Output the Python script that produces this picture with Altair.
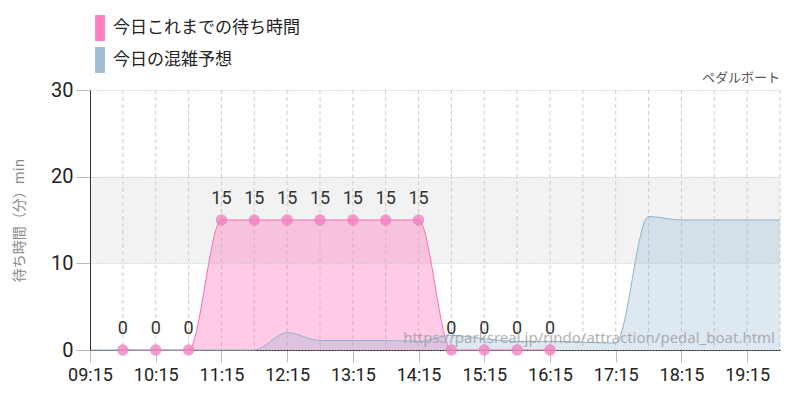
import altair as alt
import pandas as pd

# ---- data ----
actual_times = ["09:45", "10:15", "10:45", "11:15", "11:45", "12:15", "12:45",
                "13:15", "13:45", "14:15", "14:45", "15:15", "15:45", "16:15"]
actual_values = [0, 0, 0, 15, 15, 15, 15, 15, 15, 15, 0, 0, 0, 0]

forecast_times = ["09:15", "09:45", "10:15", "10:45", "11:15", "11:45", "12:15",
                  "12:45", "13:15", "13:45", "14:15", "14:45", "15:15", "15:45",
                  "16:15", "16:45", "17:15", "17:45", "18:15", "18:45", "19:15", "19:45"]
forecast_values = [0, 0, 0, 0, 0, 0, 2.0, 1.1, 1.1, 1.1, 1.0, 1.7, 1.3, 1.0,
                   1.0, 0.9, 0.8, 15.4, 15.0, 15.0, 15.0, 15.0]

hour_ticks = ["09:15", "10:15", "11:15", "12:15", "13:15", "14:15",
              "15:15", "16:15", "17:15", "18:15", "19:15"]
grid_times = ["09:45", "10:15", "10:45", "11:15", "11:45", "12:15", "12:45",
              "13:15", "13:45", "14:15", "14:45", "15:15", "15:45", "16:15",
              "16:45", "17:15", "17:45", "18:15", "18:45", "19:15", "19:45"]
x_domain = ["09:15", "19:45"]
y_domain = [0, 30]
y_ticks = [0, 10, 20, 30]
band_low = [10]
band_high = [20]

series_names = ["今日これまでの待ち時間", "今日の混雑予想"]
series_colors = ["#ff69b4", "#8fb3d0"]
title_text = "ペダルボート"
y_title = "待ち時間（分）min"
watermark = "https://parksreal.jp/rindo/attraction/pedal_boat.html"


def to_min(s):
    h, m = s.split(":")
    return int(h) * 60 + int(m)


COND = "Roboto, sans-serif"
JP = "'Noto Sans CJK JP', 'Noto Sans', sans-serif"

actual_df = pd.DataFrame({
    "t": [to_min(t) for t in actual_times],
    "v": actual_values,
    "series": series_names[0],
})
forecast_df = pd.DataFrame({
    "t": [to_min(t) for t in forecast_times],
    "v": forecast_values,
    "series": series_names[1],
})
grid_df = pd.DataFrame({"t": [to_min(t) for t in grid_times]})
band_df = pd.DataFrame({"lo": band_low, "hi": band_high})
wm_df = pd.DataFrame({"t": [to_min(x_domain[1])], "v": [0], "text": [watermark]})
title_df = pd.DataFrame({"t": [to_min(x_domain[1])], "v": [y_domain[1]], "text": [title_text]})

W, H = 690, 260

x_scale = alt.Scale(domain=[to_min(x_domain[0]), to_min(x_domain[1])], nice=False, zero=False)
y_scale = alt.Scale(domain=y_domain, nice=False)

label_expr = ("(floor(datum.value/60) < 10 ? '0' : '') + floor(datum.value/60) + ':' + "
              "(datum.value % 60 < 10 ? '0' : '') + (datum.value % 60)")

x_axis = alt.Axis(values=[to_min(t) for t in hour_ticks], labelExpr=label_expr,
                  grid=False, domainColor="#222", domainWidth=1, labelOverlap=False,
                  labelFlush=False,
                  tickColor="#bbb", tickSize=12, labelFontSize=18, labelFont=COND,
                  labelColor="#222", labelPadding=4, title=None)
y_axis = alt.Axis(values=y_ticks, grid=True, gridDash=[1, 2], gridColor="#bbb",
                  domainColor="#333", tickColor="#bbb", tickSize=14,
                  labelFontSize=20, labelFont=COND, labelColor="#222", labelPadding=3,
                  title=y_title, titleFontSize=14, titleColor="#888", titleFont=JP,
                  titleFontWeight="normal", titlePadding=24, zindex=1)

X = alt.X("t:Q", scale=x_scale, axis=x_axis)
Y = alt.Y("v:Q", scale=y_scale, axis=y_axis)

color = alt.Color(
    "series:N",
    scale=alt.Scale(domain=series_names, range=series_colors),
    legend=alt.Legend(
        title=None, orient="none", legendX=-3, legendY=-75, padding=0,
        symbolType="M-0.38,-1L0.38,-1L0.38,1L-0.38,1Z", symbolSize=676,
        symbolStrokeWidth=0, symbolOpacity=0.85, labelFontSize=17, labelFont=JP,
        labelColor="#222", labelOffset=0, rowPadding=6, labelLimit=400,
    ),
)

band = alt.Chart(band_df).mark_rect(color="#f2f2f2").encode(
    x=alt.value(0), x2=alt.value(W),
    y=alt.Y("lo:Q", scale=y_scale, axis=y_axis), y2="hi:Q",
)

vgrid = alt.Chart(grid_df).mark_rule(color="#cccccc", strokeDash=[4, 3], strokeWidth=1).encode(
    x=alt.X("t:Q", scale=x_scale, axis=x_axis)
)

pink_area = alt.Chart(actual_df).mark_area(
    interpolate="monotone", fillOpacity=0.35, line={"strokeWidth": 1}
).encode(x=X, y=Y, color=color)

blue_area = alt.Chart(forecast_df).mark_area(
    interpolate="monotone", fillOpacity=0.3, line={"strokeWidth": 1}
).encode(x=X, y=Y, color=color)

points = alt.Chart(actual_df).mark_circle(size=130, color="#f27ac0", opacity=0.75).encode(
    x=X, y=Y
)

labels = alt.Chart(actual_df).mark_text(
    dy=-12, baseline="bottom", fontSize=18, font=COND, color="#333"
).encode(x=X, y=Y, text="v:Q")

wm = alt.Chart(wm_df).mark_text(
    align="right", baseline="alphabetic", dx=-5, dy=-7, fontSize=15,
    font="'Noto Sans', sans-serif", color="#999", opacity=0.75
).encode(x=X, y=Y, text="text:N")

title = alt.Chart(title_df).mark_text(
    align="right", baseline="alphabetic", dy=-8, fontSize=13,
    font=JP, color="#555"
).encode(x=X, y=Y, text="text:N")

chart = alt.layer(band, vgrid, pink_area, blue_area, points, labels, wm, title).properties(
    width=W, height=H,
    autosize="none",
    padding={"left": 82, "top": 82, "right": 12, "bottom": 42},
).configure_view(stroke=None)

chart.save("out.html", embed_options={"renderer": "svg", "actions": False})
